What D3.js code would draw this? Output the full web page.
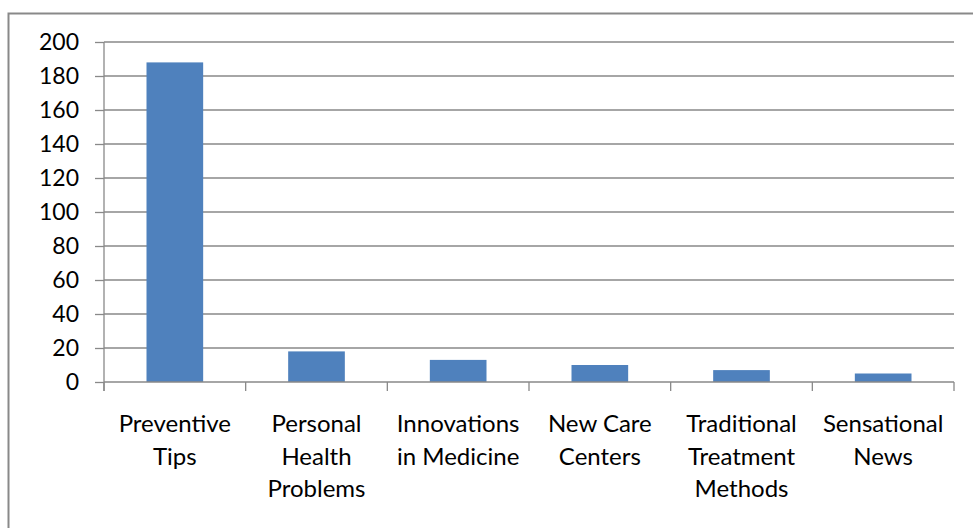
<!DOCTYPE html>
<html><head><meta charset="utf-8">
<script src="https://cdn.jsdelivr.net/npm/d3@7"></script>
<style>html,body{margin:0;padding:0;background:#fff;}svg{display:block;}</style>
</head><body>
<svg id="chart" width="973" height="528"></svg>
<script>
const categories = ["Preventive Tips", "Personal Health Problems", "Innovations in Medicine", "New Care Centers", "Traditional Treatment Methods", "Sensational News"];
const values = [188, 18, 13, 10, 7, 5];
const yTicks = [0, 20, 40, 60, 80, 100, 120, 140, 160, 180, 200];

const W = 973, H = 528;
const m = {left: 104, right: 19, top: 42, bottom: 146};
const svg = d3.select("#chart");
const FONT = "Lato, 'Open Sans', sans-serif";
const FS = 23;
const FSX = 24;
const GRAY = "#898989";

svg.append("rect").attr("x", 8.5).attr("y", 13.5).attr("width", W + 20).attr("height", H + 20)
  .attr("fill", "none").attr("stroke", GRAY).attr("stroke-width", 2);

const x = d3.scaleBand().domain(categories).range([m.left, W - m.right]).paddingInner(0.6).paddingOuter(0.3);
const y = d3.scaleLinear().domain([0, 200]).range([H - m.bottom, m.top]);

// gridlines
svg.append("g").selectAll("line").data(yTicks.filter(d => d > 0)).join("line")
  .attr("x1", m.left).attr("x2", W - m.right)
  .attr("y1", d => y(d)).attr("y2", d => y(d))
  .attr("stroke", GRAY).attr("stroke-width", 1.3);

// y axis
const yAxis = svg.append("g").attr("transform", `translate(${m.left},0)`)
  .call(d3.axisLeft(y).tickValues(yTicks).tickSize(9).tickPadding(16));
yAxis.select(".domain").attr("stroke", GRAY).attr("stroke-width", 1.3)
  .attr("d", `M0,${y(0) + 9}V${y(200)}`);
yAxis.selectAll(".tick line").attr("stroke", GRAY).attr("stroke-width", 1.3);
yAxis.selectAll(".tick text").attr("font-family", FONT).attr("font-size", FS).attr("fill", "#000");

// bars
svg.append("g").selectAll("rect").data(values).join("rect")
  .attr("x", (d, i) => x(categories[i]))
  .attr("width", x.bandwidth())
  .attr("y", d => y(d))
  .attr("height", d => y(0) - y(d))
  .attr("fill", "#4F81BD");

// x axis
const step = x.step();
const xg = svg.append("g");
xg.append("line").attr("x1", m.left).attr("x2", W - m.right).attr("y1", y(0)).attr("y2", y(0))
  .attr("stroke", GRAY).attr("stroke-width", 1.3);
xg.selectAll("line.tk").data(categories.map((c, i) => m.left + i * step).concat([W - m.right])).join("line")
  .attr("class", "tk")
  .attr("x1", d => d).attr("x2", d => d).attr("y1", y(0)).attr("y2", y(0) + 9)
  .attr("stroke", GRAY).attr("stroke-width", 1.3);

// category labels with wrapping
const maxW = step - 4;
categories.forEach((c, i) => {
  const cx = x(c) + x.bandwidth() / 2;
  const t = xg.append("text").attr("text-anchor", "middle").attr("font-family", FONT)
    .attr("font-size", FSX).attr("fill", "#000");
  const words = c.split(" ");
  let lines = [], cur = [];
  const probe = xg.append("text").attr("font-family", FONT).attr("font-size", FSX);
  words.forEach(w => {
    const test = cur.concat([w]).join(" ");
    probe.text(test);
    if (cur.length && probe.node().getComputedTextLength() > maxW) { lines.push(cur.join(" ")); cur = [w]; }
    else cur.push(w);
  });
  lines.push(cur.join(" "));
  probe.remove();
  lines.forEach((l, j) => t.append("tspan").attr("x", cx).attr("y", 432 + j * 32.5).text(l));
});
</script>
</body></html>
